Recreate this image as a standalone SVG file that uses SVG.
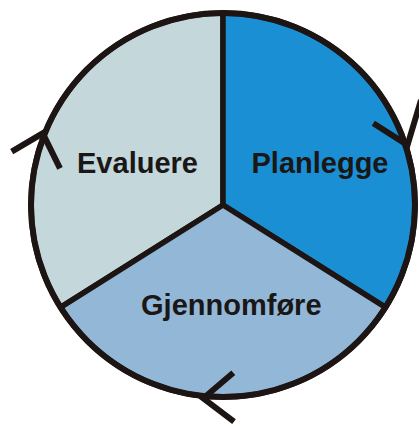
<svg xmlns="http://www.w3.org/2000/svg" width="419" height="426" viewBox="0 0 419 426">
<style>
.seg{stroke:#1c1513;stroke-width:5.5;stroke-linejoin:round}
.lbl{font-family:"Liberation Sans",Arial,sans-serif;font-weight:bold;font-size:29px;fill:#1a1716;text-anchor:middle}
.arr{fill:none;stroke:#1c1513;stroke-width:6;stroke-linecap:butt;stroke-linejoin:miter}
</style>
<rect width="419" height="426" fill="#ffffff"/>
<g id="evaluere">
<path class="seg" fill="#c4d7da" d="M223,205 L223,13 A192,192 0 0 0 60.5,307.3 Z"/>
<text class="lbl" x="137.5" y="172.7">Evaluere</text>
</g>
<g id="planlegge">
<path class="seg" fill="#1b8fd3" d="M223,205 L223,13 A192,192 0 0 1 385.5,307.3 Z"/>
<text class="lbl" x="320" y="172.7">Planlegge</text>
</g>
<g id="gjennomfore">
<path class="seg" fill="#93b7d7" d="M223,205 L385.5,307.3 A192,192 0 0 1 60.5,307.3 Z"/>
<text class="lbl" x="231.3" y="315">Gjennomføre</text>
</g>
<circle cx="223" cy="205" r="192" fill="none" stroke="#1c1513" stroke-width="6"/>
<g id="connectors">
<polyline class="arr" points="373.3,123.3 407.5,145 421,100"/>
<polyline class="arr" points="233.3,372.7 203.3,398.3 234,421.7"/>
<polyline class="arr" points="11.7,151.7 42.7,133.3 60,168.3"/>
</g>
</svg>
